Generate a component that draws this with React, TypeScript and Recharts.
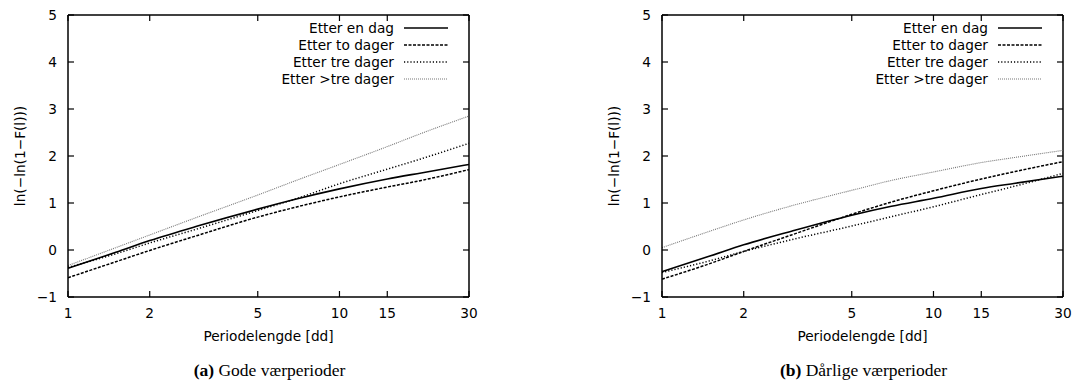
import React from 'react';
import { LineChart, Line, XAxis, YAxis, ReferenceLine } from 'recharts';

const periodLengths = [1, 1.5, 2, 3, 5, 7, 10, 15, 20, 30];
const xTicks = [1, 2, 5, 10, 15, 30];
const yTicks = [-1, 0, 1, 2, 3, 4, 5];
const seriesNames = ['Etter en dag', 'Etter to dager', 'Etter tre dager', 'Etter >tre dager'];

// (a) Gode værperioder
const goodEnDag = [-0.39, -0.05, 0.2, 0.51, 0.87, 1.09, 1.3, 1.51, 1.64, 1.82];
const goodToDager = [-0.59, -0.25, -0.01, 0.31, 0.7, 0.92, 1.13, 1.34, 1.48, 1.71];
const goodTreDager = [-0.37, -0.08, 0.15, 0.45, 0.84, 1.1, 1.41, 1.72, 1.94, 2.27];
const goodOverTre = [-0.33, 0.05, 0.32, 0.7, 1.17, 1.49, 1.82, 2.2, 2.48, 2.85];

// (b) Dårlige værperioder
const badEnDag = [-0.46, -0.13, 0.11, 0.4, 0.74, 0.93, 1.1, 1.31, 1.42, 1.57];
const badToDager = [-0.62, -0.29, -0.03, 0.32, 0.76, 1.02, 1.26, 1.51, 1.67, 1.88];
const badTreDager = [-0.48, -0.23, -0.03, 0.22, 0.51, 0.71, 0.92, 1.18, 1.36, 1.63];
const badOverTre = [0.05, 0.4, 0.64, 0.94, 1.27, 1.48, 1.66, 1.86, 1.97, 2.12];

const FONT = '"DejaVu Sans", sans-serif';
const FS = 13.7;

// plot frame (layout)
const PLOT_TOP = 15;
const PLOT_BOTTOM = 297;
const PLOT_LEFT = 68;
const PLOT_RIGHT = 469;
const TICK = 6;
const FRAME_W = 1.5;

const lineStyles = [
  { stroke: '#000', width: 1.6, dash: undefined as string | undefined },
  { stroke: '#000', width: 1.5, dash: '3 1.5' },
  { stroke: '#000', width: 1.5, dash: '1.2 2' },
  { stroke: '#777', width: 1.1, dash: '1 1' },
];

function buildRows(series: number[][]) {
  return periodLengths.map((x, i) => {
    const row: Record<string, number> = { x };
    series.forEach((s, k) => {
      row['s' + k] = s[i];
    });
    return row;
  });
}

const fmtY = (v: number) => (v < 0 ? `\u2212${-v}` : String(v));

function XTick(props: any) {
  const { x, payload } = props;
  return (
    <g>
      <line x1={x} x2={x} y1={PLOT_BOTTOM} y2={PLOT_BOTTOM - TICK} stroke="#000" strokeWidth={1.2} />
      <line x1={x} x2={x} y1={PLOT_TOP} y2={PLOT_TOP + TICK} stroke="#000" strokeWidth={1.2} />
      <text x={x} y={313} textAnchor="middle" dominantBaseline="central" fontFamily={FONT} fontSize={FS} fill="#000">
        {payload.value}
      </text>
    </g>
  );
}

function YTick(props: any) {
  const { y, payload } = props;
  return (
    <g>
      <line x1={PLOT_LEFT} x2={PLOT_LEFT + TICK} y1={y} y2={y} stroke="#000" strokeWidth={1.2} />
      <line x1={PLOT_RIGHT} x2={PLOT_RIGHT - TICK} y1={y} y2={y} stroke="#000" strokeWidth={1.2} />
      <text x={57} y={y} textAnchor="end" dominantBaseline="central" fontFamily={FONT} fontSize={FS} fill="#000">
        {fmtY(payload.value)}
      </text>
    </g>
  );
}

function Panel({ offsetX, series, tag, caption }: { offsetX: number; series: number[][]; tag: string; caption: string }) {
  const data = buildRows(series);
  return (
    <div style={{ position: 'absolute', left: offsetX, top: 0, width: 489, height: 392 }}>
      <LineChart width={489} height={392} data={data} margin={{ top: PLOT_TOP, right: 489 - PLOT_RIGHT, bottom: 65, left: 0 }}>
        <XAxis
          dataKey="x"
          type="number"
          scale="log"
          domain={[1, 30]}
          ticks={xTicks}
          allowDataOverflow
          interval={0}
          height={30}
          tickLine={false}
          axisLine={{ stroke: '#000', strokeWidth: FRAME_W }}
          tick={<XTick />}
        />
        <YAxis
          type="number"
          domain={[-1, 5]}
          ticks={yTicks}
          allowDataOverflow
          interval={0}
          width={PLOT_LEFT}
          tickLine={false}
          axisLine={{ stroke: '#000', strokeWidth: FRAME_W }}
          tick={<YTick />}
        />
        <ReferenceLine y={5} stroke="#000" strokeWidth={FRAME_W} ifOverflow="extendDomain" />
        <ReferenceLine x={30} stroke="#000" strokeWidth={FRAME_W} ifOverflow="extendDomain" />
        {lineStyles.map((st, k) => (
          <Line
            key={k}
            dataKey={'s' + k}
            name={seriesNames[k]}
            type="monotone"
            stroke={st.stroke}
            strokeWidth={st.width}
            strokeDasharray={st.dash}
            dot={false}
            activeDot={false}
            isAnimationActive={false}
          />
        ))}
      </LineChart>
      <svg width={489} height={392} style={{ position: 'absolute', left: 0, top: 0, pointerEvents: 'none' }}>
        {seriesNames.map((n, k) => {
          const y = 28 + k * 17;
          const st = lineStyles[k];
          return (
            <g key={n}>
              <text x={394} y={y} textAnchor="end" dominantBaseline="central" fontFamily={FONT} fontSize={FS} fill="#000">
                {n}
              </text>
              <line x1={404} x2={448} y1={y} y2={y} stroke={st.stroke} strokeWidth={st.width} strokeDasharray={st.dash} />
            </g>
          );
        })}
        <text
          transform="translate(20,156) rotate(-90)"
          textAnchor="middle"
          dominantBaseline="central"
          fontFamily={FONT}
          fontSize={FS}
          fill="#000"
        >
          ln(−ln(1−F(l)))
        </text>
        <text x={268.5} y={336} textAnchor="middle" dominantBaseline="central" fontFamily={FONT} fontSize={FS} fill="#000">
          Periodelengde [dd]
        </text>
        <text x={269.5} y={376} textAnchor="middle" fontFamily='"Liberation Serif", serif' fontSize={17.5} fill="#000">
          <tspan fontWeight="bold">{tag}</tspan>
          <tspan> {caption}</tspan>
        </text>
      </svg>
    </div>
  );
}

export default function App() {
  return (
    <div style={{ position: 'absolute', left: 0, top: 0, width: 1083, height: 392, background: '#fff', overflow: 'hidden' }}>
      <Panel offsetX={0} series={[goodEnDag, goodToDager, goodTreDager, goodOverTre]} tag="(a)" caption="Gode værperioder" />
      <Panel offsetX={594} series={[badEnDag, badToDager, badTreDager, badOverTre]} tag="(b)" caption="Dårlige værperioder" />
    </div>
  );
}
